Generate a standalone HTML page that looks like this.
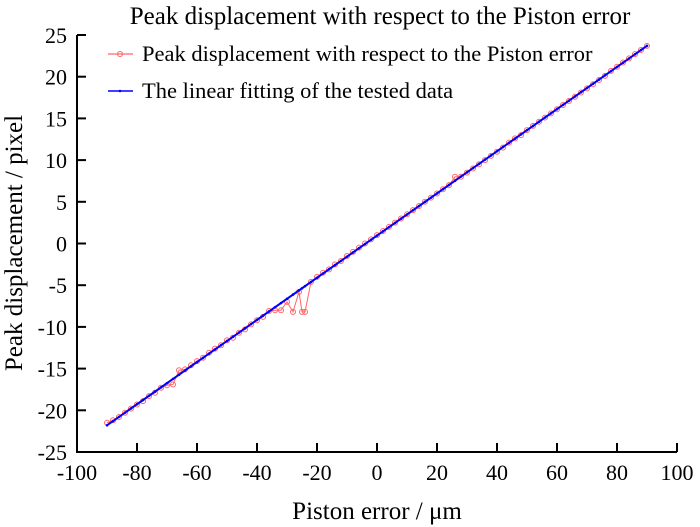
<!DOCTYPE html>
<html><head><meta charset="utf-8"><style>
body{margin:0;background:#fff}
svg{display:block;font-family:"Liberation Serif",serif}
</style></head><body>
<svg id="chart" width="700" height="527" viewBox="0 0 700 527" xmlns="http://www.w3.org/2000/svg">
<text x="380" y="24" font-size="25" text-anchor="middle">Peak displacement with respect to the Piston error</text>
<g id="axes"></g>
<g id="series"></g>
<text x="377" y="519" font-size="25" text-anchor="middle">Piston error / μm</text>
<text transform="translate(22,243) rotate(-90)" font-size="25" text-anchor="middle">Peak displacement / pixel</text>
<g>
  <g>
    <line x1="108" y1="54" x2="133" y2="54" stroke="#ff6666" stroke-width="1.2"/>
    <circle cx="120" cy="54" r="2.5" fill="none" stroke="#ff6666" stroke-width="1"/>
    <text x="142" y="61" font-size="22.5">Peak displacement with respect to the Piston error</text>
  </g>
  <g>
    <line x1="108" y1="91" x2="133" y2="91" stroke="#0000ff" stroke-width="1.5"/>
    <circle cx="120" cy="91" r="1.3" fill="#0000ff"/>
    <text x="142" y="98" font-size="22.5">The linear fitting of the tested data</text>
  </g>
</g>
</svg>
<script>
const xTicks=[-100,-80,-60,-40,-20,0,20,40,60,80,100];
const yTicks=[-25,-20,-15,-10,-5,0,5,10,15,20,25];
const dataX=[-90,-88,-86,-84,-82,-80,-78,-76,-74,-72,-70,-68,-66,-64,-62,-60,-58,-56,-54,-52,-50,-48,-46,-44,-42,-40,-38,-36,-34,-32,-30,-28,-26,-25,-24,-22,-20,-18,-16,-14,-12,-10,-8,-6,-4,-2,0,2,4,6,8,10,12,14,16,18,20,22,24,26,28,30,32,34,36,38,40,42,44,46,48,50,52,54,56,58,60,62,64,66,68,70,72,74,76,78,80,82,84,86,88,90];
const dataY=[-21.5,-21.2,-20.8,-20.3,-19.8,-19.3,-18.9,-18.3,-17.9,-17.3,-17.0,-16.9,-15.2,-15.1,-14.6,-14.1,-13.7,-13.1,-12.6,-12.2,-11.6,-11.3,-10.7,-10.3,-9.7,-9.2,-8.8,-8.1,-8.0,-8.0,-7.0,-8.2,-5.8,-8.2,-8.2,-4.6,-4.0,-3.5,-3.1,-2.5,-2.1,-1.5,-1.0,-0.5,0.0,0.5,1.0,1.5,2.0,2.5,3.0,3.5,4.0,4.5,5.0,5.5,6.0,6.5,7.0,8.0,8.0,8.5,9.0,9.5,10.0,10.5,11.0,11.5,12.1,12.6,13.0,13.6,14.1,14.6,15.1,15.6,16.1,16.6,17.1,17.6,18.1,18.6,19.1,19.6,20.1,20.7,21.2,21.7,22.2,22.7,23.2,23.7];
const fitX=[-90,90];
const fitY=[-21.8,23.7];
const NS="http://www.w3.org/2000/svg";
const X0=77,X1=677,Y0=452,Y1=35;
const sx=v=>X0+(v+100)/200*(X1-X0);
const sy=v=>Y0-(v+25)/50*(Y0-Y1);
const axes=document.getElementById('axes'),ser=document.getElementById('series');
function mk(t,a,p){const e=document.createElementNS(NS,t);for(const k in a)e.setAttribute(k,a[k]);p.appendChild(e);return e;}
const ya=mk('line',{x1:X0,y1:Y0,x2:X0,y2:Y1,stroke:'#000','stroke-width':2},axes);


const xa=mk('line',{x1:X0-1,y1:Y0,x2:X1,y2:Y0,stroke:'#000','stroke-width':2},axes);


xTicks.forEach(v=>{
  const tk=mk('line',{x1:sx(v),y1:Y0,x2:sx(v),y2:Y0-9,stroke:'#000','stroke-width':2},axes);
  
  
  const t=mk('text',{x:sx(v),y:Y0+28,'font-size':22,'text-anchor':'middle'},axes);t.textContent=v;
  
  
});
yTicks.forEach(v=>{
  const tk=mk('line',{x1:X0,y1:sy(v),x2:X0+9,y2:sy(v),stroke:'#000','stroke-width':2},axes);
  
  
  const t=mk('text',{x:X0-10,y:sy(v)+8,'font-size':22,'text-anchor':'end'},axes);t.textContent=v;
  
  
});
const pl=mk('polyline',{points:dataX.map((x,i)=>sx(x)+','+sy(dataY[i])).join(' '),fill:'none',stroke:'#ff6666','stroke-width':1},ser);


dataX.forEach((x,i)=>{
  const c=mk('circle',{cx:sx(x),cy:sy(dataY[i]),r:2.5,fill:'none',stroke:'#ff6666','stroke-width':1},ser);
  
  
});
const fl=mk('line',{x1:sx(fitX[0]),y1:sy(fitY[0]),x2:sx(fitX[1]),y2:sy(fitY[1]),stroke:'#0000ff','stroke-width':2},ser);


const slope=(fitY[1]-fitY[0])/(fitX[1]-fitX[0]);
dataX.forEach(x=>{
  const c=mk('circle',{cx:sx(x),cy:sy(fitY[0]+slope*(x-fitX[0])),r:1.3,fill:'#0000ff'},ser);
  
  
});
</script>
</body></html>
